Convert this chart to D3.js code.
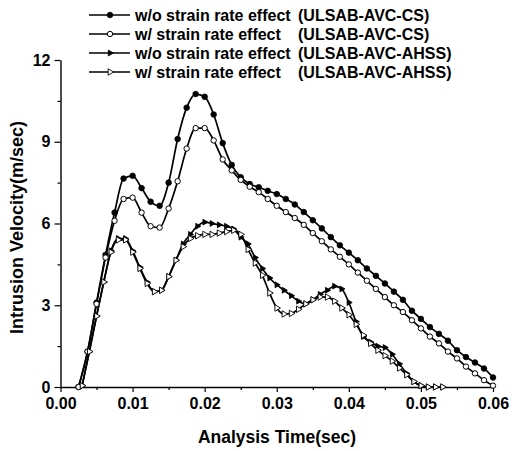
<!DOCTYPE html>
<html>
<head>
<meta charset="utf-8">
<script src="https://cdn.jsdelivr.net/npm/d3@7"></script>
<style>
  html, body { margin: 0; padding: 0; background: #fff; }
  svg { display: block; }
  text { font-family: "Liberation Sans", Arial, sans-serif; font-weight: bold; fill: #000; }
</style>
</head>
<body>
<svg id="chart" width="513" height="451"></svg>
<script>
// ---------- data ----------
const timeCS = [0.0025,0.00375,0.005,0.00625,0.0075,0.00875,0.01,0.01125,0.0125,0.01375,
  0.015,0.01625,0.0175,0.01875,0.02,0.02125,0.0225,0.02375,0.025,0.02625,0.0275,0.02875,
  0.03,0.03125,0.0325,0.03375,0.035,0.03625,0.0375,0.03875,0.04,0.04125,0.0425,0.04375,
  0.045,0.04625,0.0475,0.04875,0.05,0.05125,0.0525,0.05375,0.055,0.05625,0.0575,0.05875,0.06];

const woCS = [0,1.3,3.1,4.85,6.4,7.65,7.75,7.3,6.8,6.65,
  7.5,9.1,10.25,10.75,10.65,10.0,8.95,8.15,7.7,7.45,7.33,7.2,
  7.08,6.9,6.7,6.42,6.12,5.82,5.5,5.2,4.93,4.65,4.35,4.08,
  3.8,3.5,3.2,2.8,2.5,2.2,1.95,1.7,1.35,1.1,0.9,0.68,0.35];

const wCS = [0,1.3,3.05,4.75,6.1,6.9,6.95,6.4,5.9,5.85,
  6.55,7.55,8.75,9.5,9.5,9.05,8.35,7.95,7.6,7.35,7.15,6.9,
  6.65,6.42,6.2,5.95,5.65,5.35,5.05,4.78,4.5,4.2,3.9,3.6,
  3.3,3.0,2.75,2.45,2.15,1.85,1.6,1.3,1.05,0.75,0.5,0.25,0.05];

const timeAHSS = [0.003,0.004,0.005,0.006,0.007,0.008,0.009,0.010,0.011,0.012,
  0.013,0.014,0.015,0.016,0.017,0.018,0.019,0.020,0.021,0.022,
  0.023,0.024,0.025,0.026,0.027,0.028,0.029,0.030,0.031,0.032,
  0.033,0.034,0.035,0.036,0.037,0.038,0.039,0.040,0.041,0.042,
  0.043,0.044,0.045,0.046,0.047,0.048,0.049,0.050,0.051,0.052,
  0.053];

const woAHSS = [0.05,1.3,2.6,3.85,5.0,5.45,5.45,5.0,4.4,3.85,
  3.5,3.55,4.05,4.65,5.25,5.6,5.9,6.05,6.0,5.95,
  5.9,5.8,5.5,5.25,4.75,4.35,4.0,3.75,3.55,3.35,
  3.15,3.05,3.2,3.4,3.55,3.7,3.6,3.1,2.4,1.85,
  1.65,1.5,1.45,1.2,0.85,0.5,0.2,0.05,0,0,
  0];

const wAHSS = [0.05,1.3,2.6,3.85,4.95,5.4,5.4,4.95,4.35,3.8,
  3.5,3.55,4.05,4.65,5.15,5.45,5.55,5.6,5.6,5.65,
  5.7,5.75,5.6,5.05,4.55,4.1,3.45,2.9,2.68,2.7,
  2.85,3.05,3.2,3.3,3.3,3.15,2.9,2.65,2.3,1.9,
  1.6,1.35,1.15,0.95,0.7,0.45,0.2,0.05,0,0,
  0];

const seriesNames = [
  "w/o strain rate effect ",
  "w/ strain rate effect ",
  "w/o strain rate effect ",
  "w/ strain rate effect "
];
const seriesTags = ["(ULSAB-AVC-CS)", "(ULSAB-AVC-CS)", "(ULSAB-AVC-AHSS)", "(ULSAB-AVC-AHSS)"];

const xTicks = [0, 0.01, 0.02, 0.03, 0.04, 0.05, 0.06];
const xMinorTicks = [0.005, 0.015, 0.025, 0.035, 0.045, 0.055];
const yTicks = [0, 3, 6, 9, 12];
const yMinorTicks = [1.5, 4.5, 7.5, 10.5];

const xTitle = "Analysis Time(sec)";
const yTitle = "Intrusion Velocity(m/sec)";

// ---------- layout ----------
const svg = d3.select("#chart");
const x = d3.scaleLinear().domain([0, 0.06]).range([60.5, 493]);
const y = d3.scaleLinear().domain([0, 12]).range([387, 60]);

const series = [
  { t: timeCS,   v: woCS,   marker: "filledCircle" },
  { t: timeCS,   v: wCS,    marker: "openCircle" },
  { t: timeAHSS, v: woAHSS, marker: "filledTri" },
  { t: timeAHSS, v: wAHSS,  marker: "openTri" }
];

function drawMarker(g, type, cx, cy) {
  if (type === "filledCircle") {
    g.append("circle").attr("cx", cx).attr("cy", cy).attr("r", 2.8)
      .attr("fill", "#000").attr("stroke", "#000").attr("stroke-width", 0.8);
  } else if (type === "openCircle") {
    g.append("circle").attr("cx", cx).attr("cy", cy).attr("r", 2.7)
      .attr("fill", "#fff").attr("stroke", "#000").attr("stroke-width", 1);
  } else {
    const sym = d3.symbol().type(d3.symbolTriangle).size(type === "filledTri" ? 15 : 18);
    g.append("path").attr("d", sym())
      .attr("transform", `translate(${cx},${cy}) rotate(90)`)
      .attr("fill", type === "filledTri" ? "#000" : "#fff")
      .attr("stroke", "#000").attr("stroke-width", type === "filledTri" ? 0.8 : 0.9);
  }
}

// axes
svg.append("g").attr("transform", `translate(0,${y(0)})`)
  .call(d3.axisBottom(x).tickValues(xTicks).tickFormat(d3.format(".2f")).tickSize(5).tickSizeOuter(0).tickPadding(6));
svg.append("g").attr("transform", `translate(0,${y(0)})`)
  .call(d3.axisBottom(x).tickValues(xMinorTicks).tickFormat("").tickSize(3).tickSizeOuter(0))
  .select(".domain").remove();
svg.append("g").attr("transform", `translate(${x(0)},0)`)
  .call(d3.axisLeft(y).tickValues(yTicks).tickSize(6).tickSizeOuter(0).tickPadding(4));
svg.append("g").attr("transform", `translate(${x(0)},0)`)
  .call(d3.axisLeft(y).tickValues(yMinorTicks).tickFormat("").tickSize(3).tickSizeOuter(0))
  .select(".domain").remove();

svg.selectAll(".domain").attr("stroke", "#000").attr("stroke-width", 1.4);
svg.selectAll(".tick line").attr("stroke", "#000").attr("stroke-width", 1.2);
svg.selectAll(".tick text").style("font-size", "16px").style("font-family", "'Liberation Sans', Arial, sans-serif")
  .style("font-weight", "bold").attr("fill", "#000");

// titles
svg.append("text").attr("x", 277).attr("y", 443).attr("text-anchor", "middle")
  .style("font-size", "17.5px").text(xTitle);
svg.append("text").attr("transform", `translate(23,${(y(0) + y(12)) / 2 + 4}) rotate(-90)`)
  .attr("text-anchor", "middle").style("font-size", "18px").text(yTitle);

// lines + markers
const line = d3.line().curve(d3.curveMonotoneX);
series.forEach(s => {
  const pts = s.t.map((t, i) => [x(t), y(s.v[i])]);
  svg.append("path").attr("d", line(pts)).attr("fill", "none")
    .attr("stroke", "#000").attr("stroke-width", 1.7);
});
series.forEach(s => {
  const g = svg.append("g");
  s.t.forEach((t, i) => drawMarker(g, s.marker, x(t), y(s.v[i])));
});

// legend
const legendRows = [15, 34, 53, 72];
series.forEach((s, i) => {
  const ly = legendRows[i];
  const g = svg.append("g");
  g.append("line").attr("x1", 89).attr("x2", 130).attr("y1", ly).attr("y2", ly)
    .attr("stroke", "#000").attr("stroke-width", 1.5);
  drawMarker(g, s.marker, 110, ly);
  g.append("text").attr("x", 135).attr("y", ly + 6).style("font-size", "16px").text(seriesNames[i]);
  g.append("text").attr("x", 298).attr("y", ly + 6).style("font-size", "16px").text(seriesTags[i]);
});
</script>
</body>
</html>
